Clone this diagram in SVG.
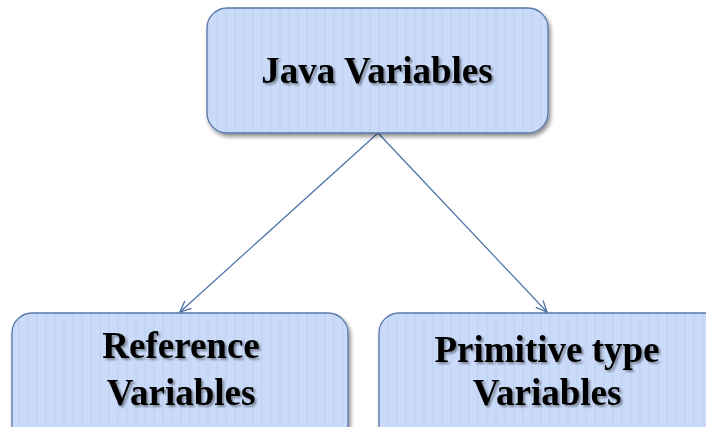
<svg xmlns="http://www.w3.org/2000/svg" width="706" height="427" viewBox="0 0 706 427">
<defs>
<style>
.box{fill:url(#stripes);stroke:#5576a8;stroke-width:1.3;filter:url(#boxsh)}
.lbl{font-family:"Liberation Serif","Times New Roman",serif;font-weight:bold;font-size:37px;fill:#000;text-anchor:middle;filter:url(#txtsh)}
.conn{stroke:#4a6fa5;stroke-width:1.2;fill:none;marker-end:url(#arr)}
</style>
<pattern id="stripes" patternUnits="userSpaceOnUse" width="9" height="10">
<rect width="9" height="10" fill="#cadbfa"/>
<rect x="0" width="2" height="10" fill="#c3d5f4"/>
</pattern>
<filter id="boxsh" x="-10%" y="-10%" width="125%" height="130%">
<feGaussianBlur in="SourceAlpha" stdDeviation="2"/>
<feOffset dx="2" dy="3" result="b"/>
<feComponentTransfer><feFuncA type="linear" slope="0.45"/></feComponentTransfer>
<feMerge><feMergeNode/><feMergeNode in="SourceGraphic"/></feMerge>
</filter>
<filter id="txtsh" x="-10%" y="-20%" width="120%" height="150%">
<feGaussianBlur in="SourceAlpha" stdDeviation="1.2"/>
<feOffset dx="2" dy="2"/>
<feComponentTransfer><feFuncA type="linear" slope="0.4"/></feComponentTransfer>
<feMerge><feMergeNode/><feMergeNode in="SourceGraphic"/></feMerge>
</filter>
<marker id="arr" markerWidth="14" markerHeight="14" refX="12" refY="6" orient="auto" markerUnits="userSpaceOnUse">
<path d="M1,1 L12,6 L1,11" fill="none" stroke="#4a6fa5" stroke-width="1.3"/>
</marker>
</defs>
<g id="connectors">
<line class="conn" x1="378" y1="133" x2="180" y2="312"/>
<line class="conn" x1="378" y1="133" x2="547" y2="312"/>
</g>
<g id="java-variables">
<rect class="box" x="207" y="8" width="341" height="125" rx="20"/>
<text class="lbl" x="377" y="83">Java Variables</text>
</g>
<g id="reference-variables">
<rect class="box" x="12" y="313" width="336" height="140" rx="20"/>
<text class="lbl" x="181" y="358">Reference</text>
<text class="lbl" x="181" y="405">Variables</text>
</g>
<g id="primitive-variables">
<rect class="box" x="379" y="313" width="345" height="140" rx="20"/>
<text class="lbl" x="547" y="362">Primitive type</text>
<text class="lbl" x="547" y="405">Variables</text>
</g>
</svg>
